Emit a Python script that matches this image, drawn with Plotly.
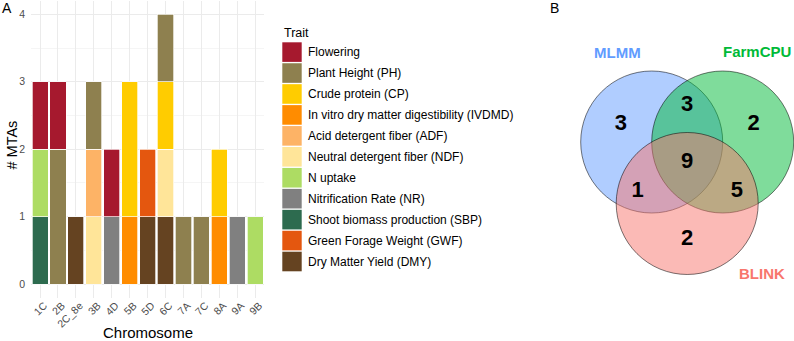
import plotly.graph_objects as go
import math

# ---------------- data ----------------
chromosomes = ["1C", "2B", "2C_8e", "3B", "4D", "5B", "5D", "6C", "7A", "7C", "8A", "9A", "9B"]

traits = [
    "Flowering",
    "Plant Height (PH)",
    "Crude protein (CP)",
    "In vitro dry matter digestibility (IVDMD)",
    "Acid detergent fiber (ADF)",
    "Neutral detergent fiber (NDF)",
    "N uptake",
    "Nitrification Rate (NR)",
    "Shoot biomass production (SBP)",
    "Green Forage Weight (GWF)",
    "Dry Matter Yield (DMY)",
]

flowering     = [1, 1, 0, 0, 1, 0, 0, 0, 0, 0, 0, 0, 0]
plant_height  = [0, 2, 0, 1, 0, 0, 0, 1, 1, 1, 0, 0, 0]
crude_protein = [0, 0, 0, 0, 0, 2, 0, 1, 0, 0, 1, 0, 0]
ivdmd         = [0, 0, 0, 0, 0, 1, 0, 0, 0, 0, 1, 0, 0]
adf           = [0, 0, 0, 1, 0, 0, 0, 0, 0, 0, 0, 0, 0]
ndf           = [0, 0, 0, 1, 0, 0, 0, 1, 0, 0, 0, 0, 0]
n_uptake      = [1, 0, 0, 0, 0, 0, 0, 0, 0, 0, 0, 0, 1]
nitrification = [0, 0, 0, 0, 1, 0, 0, 0, 0, 0, 0, 1, 0]
sbp           = [1, 0, 0, 0, 0, 0, 0, 0, 0, 0, 0, 0, 0]
gwf           = [0, 0, 0, 0, 0, 0, 1, 0, 0, 0, 0, 0, 0]
dmy           = [0, 0, 1, 0, 0, 0, 1, 1, 0, 0, 0, 0, 0]

series = [flowering, plant_height, crude_protein, ivdmd, adf, ndf,
          n_uptake, nitrification, sbp, gwf, dmy]

trait_colors = ["#A6192E", "#8E804F", "#FFCC00", "#FF8C00", "#FDB366", "#FFE599",
                "#ADDC63", "#808080", "#2D6B4F", "#E4570F", "#654321"]

y_ticks = [0, 1, 2, 3, 4]

# Venn data: MLMM, FarmCPU, BLINK
venn_sets = ["MLMM", "FarmCPU", "BLINK"]
venn_set_colors = ["#619CFF", "#00BA38", "#F8766D"]
venn_regions = ["MLMM", "FarmCPU", "BLINK", "MLMM&FarmCPU", "MLMM&BLINK", "FarmCPU&BLINK", "all"]
venn_counts = [3, 2, 2, 3, 1, 5, 9]

# ---------------- layout constants ----------------
W, H = 794, 341
FONT = "Liberation Sans, Arial, sans-serif"

def px_x(p):
    return p / W

def px_y(p):
    return 1 - p / H

fig = go.Figure()

# stacked bars: bottom of stack is last trait
for name, vals, col in reversed(list(zip(traits, series, trait_colors))):
    fig.add_trace(go.Bar(
        x=chromosomes,
        y=[v if v else None for v in vals],
        name=name,
        marker=dict(color=col, line=dict(color="white", width=0.7)),
        showlegend=False,
        xaxis="x", yaxis="y",
    ))

# ---------------- Venn diagram ----------------
r = 1.0
s = 1.0  # distance between centres
centres = [(-s / 2, s / (2 * math.sqrt(3))),
           (s / 2, s / (2 * math.sqrt(3))),
           (0.0, -s / math.sqrt(3))]
fills = ["rgba(97,156,255,0.5)", "rgba(0,186,56,0.5)", "rgba(248,118,109,0.5)"]

shapes = []
for (cx, cy), fc in zip(centres, fills):
    shapes.append(dict(type="circle", xref="x2", yref="y2",
                       x0=cx - r, x1=cx + r, y0=cy - r, y1=cy + r,
                       fillcolor=fc, line=dict(color="rgba(0,0,0,0.65)", width=0.8),
                       layer="below"))

single_k, pair_k = 1.87, 1.4
label_pos = [
    (centres[0][0] * single_k, centres[0][1] * single_k),
    (centres[1][0] * single_k, centres[1][1] * single_k),
    (centres[2][0] * single_k, centres[2][1] * single_k),
    (-centres[2][0] * pair_k, -centres[2][1] * pair_k),
    (-centres[1][0] * pair_k, -centres[1][1] * pair_k),
    (-centres[0][0] * pair_k, -centres[0][1] * pair_k),
    (0.0, 0.0),
]
fig.add_trace(go.Scatter(
    x=[p[0] for p in label_pos], y=[p[1] for p in label_pos],
    text=[str(c) for c in venn_counts], mode="text",
    textfont=dict(family=FONT, size=22, color="black", weight="bold"),
    xaxis="x2", yaxis="y2", showlegend=False, hoverinfo="skip",
))

annotations = []
set_label_pos = [(-0.985, 1.55), (0.98, 1.56), (1.06, -1.56)]
for name, col, (lx, ly) in zip(venn_sets, venn_set_colors, set_label_pos):
    annotations.append(dict(x=lx, y=ly, xref="x2", yref="y2", text=f"<b>{name}</b>",
                            showarrow=False, font=dict(family=FONT, size=15, color=col),
                            xanchor="center", yanchor="middle"))

# ---------------- custom legend ----------------
key_x0, key_x1 = 282.3, 301.7
key_top0, key_pitch, key_h = 42.3, 20.94, 19.6
annotations.append(dict(x=px_x(281.5), y=px_y(33.3), xref="paper", yref="paper", text="Trait",
                        showarrow=False, xanchor="left", yanchor="middle",
                        font=dict(family=FONT, size=12.5, color="black")))
for i, (name, col) in enumerate(zip(traits, trait_colors)):
    top = key_top0 + i * key_pitch
    shapes.append(dict(type="rect", xref="paper", yref="paper",
                       x0=px_x(key_x0), x1=px_x(key_x1), y0=px_y(top + key_h), y1=px_y(top),
                       fillcolor=col, line=dict(width=0)))
    annotations.append(dict(x=px_x(305.5), y=px_y(top + key_h / 2), xref="paper", yref="paper",
                            text=name, showarrow=False, xanchor="left", yanchor="middle",
                            font=dict(family=FONT, size=12, color="black")))

# axis titles & panel tags
annotations += [
    dict(x=px_x(148), y=px_y(332), xref="paper", yref="paper", text="Chromosome",
         showarrow=False, font=dict(family=FONT, size=15, color="black"),
         xanchor="center", yanchor="middle"),
    dict(x=px_x(11.5), y=px_y(145), xref="paper", yref="paper", text="# MTAs", textangle=-90,
         showarrow=False, font=dict(family=FONT, size=14.5, color="black"),
         xanchor="center", yanchor="middle"),
    dict(x=px_x(0), y=px_y(8), xref="paper", yref="paper", text="A", showarrow=False,
         font=dict(family=FONT, size=14, color="black"), xanchor="left", yanchor="middle"),
    dict(x=px_x(548), y=px_y(8.5), xref="paper", yref="paper", text="B", showarrow=False,
         font=dict(family=FONT, size=14, color="black"), xanchor="left", yanchor="middle"),
]

# bar panel geometry (pixels)
panel_l, panel_r = 31.1, 264.1
panel_t, panel_b = 0.8, 297.5

# Venn axes: 71 px per unit, centroid at pixel (687.2, 162.5)
scale = 71.0
cxp, cyp = 687.2, 162.5
vx0, vx1 = 530.0, 794.0

fig.update_layout(
    width=W, height=H,
    margin=dict(l=0, r=0, t=0, b=0),
    paper_bgcolor="white", plot_bgcolor="white",
    barmode="stack", bargap=0.1,
    showlegend=False,
    font=dict(family=FONT),
    xaxis=dict(domain=[px_x(panel_l), px_x(panel_r)], type="category",
               categoryorder="array", categoryarray=chromosomes,
               showgrid=True, gridcolor="#EBEBEB", gridwidth=1,
               tickangle=-45, tickfont=dict(family=FONT, size=10.5, color="#4D4D4D"),
               ticks="", ticklabelstandoff=-1, ticklabelshift=4,
               showline=False, zeroline=False, automargin=False, anchor="y"),
    yaxis=dict(domain=[px_y(panel_b), px_y(panel_t)], range=[-0.2, 4.2],
               tickvals=y_ticks, showgrid=True, gridcolor="#EBEBEB", gridwidth=1,
               minor=dict(dtick=0.5, tick0=0, showgrid=True, gridcolor="#F5F5F5", gridwidth=0.6),
               tickfont=dict(family=FONT, size=10.5, color="#4D4D4D"),
               ticks="outside", ticklen=3, tickcolor="rgba(0,0,0,0)",
               showline=False, zeroline=False, automargin=False, anchor="x"),
    xaxis2=dict(domain=[px_x(vx0), px_x(vx1)],
                range=[(vx0 - cxp) / scale, (vx1 - cxp) / scale],
                visible=False, showgrid=False, zeroline=False, anchor="y2"),
    yaxis2=dict(domain=[0, 1], range=[-(H - cyp) / scale, cyp / scale],
                visible=False, showgrid=False, zeroline=False, anchor="x2"),
    shapes=shapes,
    annotations=annotations,
)

fig.write_html("out.html")
